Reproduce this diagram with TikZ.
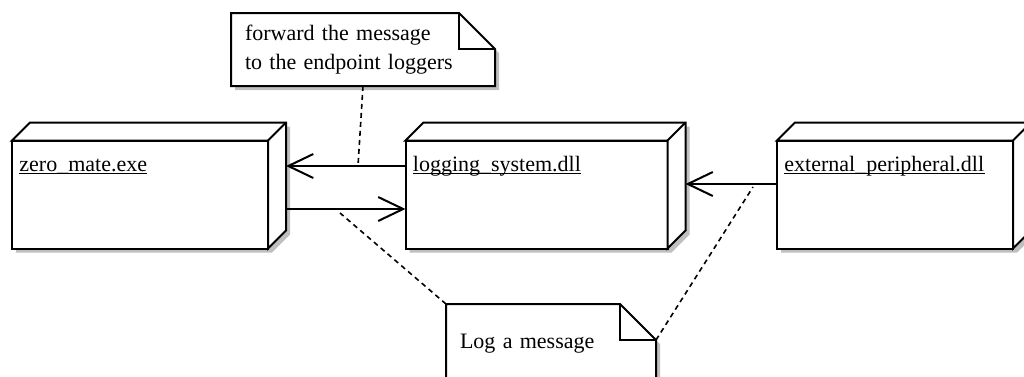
\documentclass[tikz,border=0pt]{standalone}
\usepackage{fontspec}
\setmainfont{Liberation Serif}
\usetikzlibrary{arrows.meta,backgrounds}

\begin{document}
\begin{tikzpicture}[x=0.5pt,y=-0.5pt,
  font=\fontsize{11}{14.2}\selectfont,
  dnode/.style={draw,line width=1pt,fill=white,minimum height=54pt,anchor=north west,inner sep=0pt,outer sep=0pt},
  dname/.style={anchor=base west,inner sep=0pt},
  note/.style={fill=white,anchor=north west,inner xsep=7pt,outer sep=0pt,align=left,minimum height=36.5pt},
  edge3d/.style={line width=1pt,fill=white,line join=miter},
  outline/.style={line width=1pt,line join=miter},
  shadowfill/.style={fill=black!25},
  uline/.style={line width=0.9pt},
  flow/.style={line width=1pt,-{Straight Barb[length=12.5pt,width=12pt,line width=1pt]}},
  link/.style={line width=0.8pt,dash pattern=on 2.5pt off 2pt}]

\useasboundingbox (0,0) rectangle (1024,376);

% the three nodes
\node[dnode,minimum width=128pt] (zm) at (12,140.5) {};
\node[dnode,minimum width=131pt] (lg) at (405.5,140.5) {};
\node[dnode,minimum width=118pt] (ext) at (777,140.5) {};
\foreach \n in {zm,lg,ext} {
  \filldraw[edge3d] (\n.north west) -- ([shift={(9pt,9pt)}]\n.north west) -- ([shift={(9pt,9pt)}]\n.north east)
    -- ([shift={(9pt,9pt)}]\n.south east) -- (\n.south east) -- (\n.north east) -- cycle;
  \draw[outline] (\n.north east) -- ([shift={(9pt,9pt)}]\n.north east);
}
\foreach \n/\t in {zm/zero\_mate.exe,lg/logging\_system.dll,ext/external\_peripheral.dll} {
  \node[dname] (\n t) at ([shift={(3.5pt,-15.25pt)}]\n.north west) {\t};
  \draw[uline] ([yshift=-1.2pt]\n t.base west) -- ([yshift=-1.2pt]\n t.base east);
}

% notes
\node[note,text width=118pt] (n1) at (231,13) {forward the message\\to the endpoint loggers};
\node[note,text width=91pt,minimum height=40pt] (n2) at (446,304) {Log a message};
\foreach \n in {n1,n2} {
  \draw[outline] (\n.north west) -- ([xshift=-18pt]\n.north east) -- ([yshift=-18pt]\n.north east)
    -- (\n.south east) -- (\n.south west) -- cycle;
  \draw[outline] ([xshift=-18pt]\n.north east) |- ([yshift=-18pt]\n.north east);
}

% shadows
\begin{scope}[on background layer]
\foreach \n in {zm,lg,ext} {
  \fill[shadowfill] ([shift={(2pt,-2pt)}]\n.south west) -- ([shift={(2pt,-2pt)}]\n.north west)
    -- ([shift={(11pt,7pt)}]\n.north west) -- ([shift={(11pt,7pt)}]\n.north east)
    -- ([shift={(11pt,7pt)}]\n.south east) -- ([shift={(2pt,-2pt)}]\n.south east) -- cycle;
}
\foreach \n in {n1,n2} {
  \fill[shadowfill] ([shift={(2pt,-2pt)}]\n.south west) -- ([shift={(2pt,-2pt)}]\n.south east)
    -- ([shift={(2pt,-20pt)}]\n.north east) -- ([shift={(-16pt,-2pt)}]\n.north east)
    -- ([shift={(2pt,-2pt)}]\n.north west) -- cycle;
}
\end{scope}

% messages
\coordinate (zmr) at ([xshift=9pt]zm.east);
\coordinate (lgr) at ([xshift=9pt]lg.east);
\coordinate (a1) at ([yshift=-12.75pt]lg.north west);
\coordinate (a2) at ([yshift=-34.25pt]lg.north west);
\coordinate (a3) at ([yshift=-21.75pt]ext.north west);
\draw[flow] (a1) -- (a1 -| zmr);
\draw[flow] (a2 -| zmr) -- (a2);
\draw[flow] (a3) -- (a3 -| lgr);

% note links
\coordinate (c1) at (358,166);
\coordinate (c2) at (340,213);
\coordinate (c3) at (753,187);
\draw[link] (n1.south) -- (c1);
\draw[link] (n2.north west) -- (c2);
\draw[link] ([yshift=-18pt]n2.north east) -- (c3);
\end{tikzpicture}
\end{document}
